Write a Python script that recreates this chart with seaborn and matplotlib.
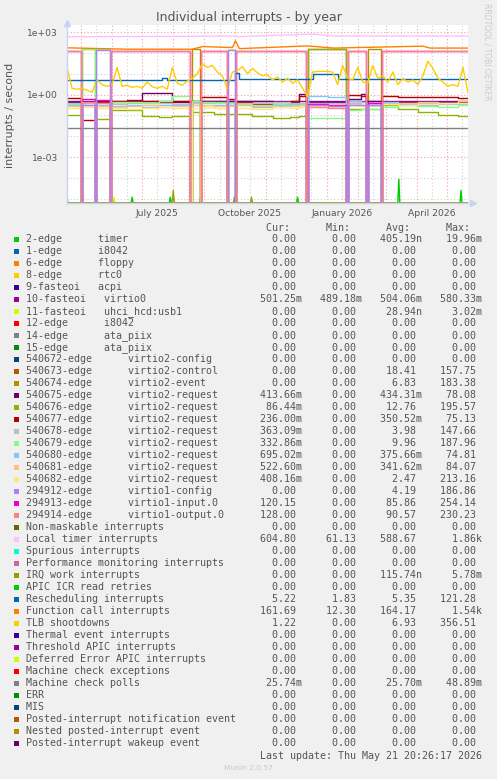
import numpy as np
import pandas as pd
import matplotlib
matplotlib.use("Agg")
import matplotlib.pyplot as plt
import matplotlib.dates as mdates
from matplotlib.patches import Rectangle
from matplotlib.ticker import FixedLocator, NullFormatter, FuncFormatter
import seaborn as sns

W, H = 497, 779
start = pd.Timestamp("2025-04-16 20:26")   # 400 days before last update
ymin, ymax = 10 ** -5.2, 10 ** 3.337

# ---- data (day offsets from start, values in interrupts/s) ----
# shared breakpoints for the virtio queues (reboots shuffle the irq numbers)
epoch_days = [0, 14, 15, 28, 29, 43, 44, 60, 75, 92, 105, 123, 125, 133, 134, 147, 160, 161, 168, 169,
              185, 205, 222, 231, 238, 240, 260, 278, 280, 293, 298, 300, 313, 314, 330, 350, 370, 390, 400]

virtio1_input = [120, 0, 0.6, 0, 0.55, 0, 120, 120, 120, 120, 120, 0, 0, 0, 120, 120, 0, 0, 0, 120,
                 120, 120, 120, 120, 0, 0.35, 0.3, 0, 120, 120, 0, 0.4, 0, 120, 120, 120, 120, 120, 120]
virtio1_output = [128, 0, 0.45, 0, 0.4, 0, 128, 128, 128, 128, 128, 0, 0, 0, 128, 128, 0, 0, 0, 128,
                  128, 128, 128, 128, 0, 0.25, 0.22, 0, 128, 128, 0, 0.3, 0, 128, 128, 128, 128, 128, 128]
virtio1_config = [0, 0, 0.3, 0, 145, 0, 0, 0, 0, 0, 0, 0, 0, 0, 0, 0, 0, 145, 0, 0,
                  0, 0, 0, 0, 0, 0.3, 0.28, 0, 0.3, 0.3, 0, 0.3, 0, 0, 0, 0, 0, 0, 0]
q540679 = [0.35, 0, 150, 0, 150, 0, 0.42, 0.42, 0.4, 0.5, 0.85, 0, 0.5, 0, 0.45, 0.4, 0, 0.4, 0, 0.35,
           0.3, 0.35, 0.3, 0.35, 0, 0.075, 0.075, 0, 0.18, 0.2, 0, 0.2, 0, 0.25, 0.3, 0.28, 0.25, 0.3, 0.33]
q540676 = [0.1, 0, 150, 0, 0.065, 0, 0.18, 0.18, 0.09, 0.08, 0.09, 0, 0.15, 0, 0.15, 0.12, 0, 0.12, 0, 0.12,
           0.09, 0.075, 0.08, 0.09, 0, 150, 150, 0, 0.2, 0.2, 0, 0.2, 0, 0.3, 0.2, 0.15, 0.11, 0.09, 0.086]
q540677 = [0.7, 0, 0.06, 0, 0.5, 0, 0.5, 0.55, 0.5, 0.45, 0.5, 0, 0, 0, 0.75, 0.8, 0, 0.6, 0, 0.45,
           0.35, 0.3, 0.5, 0.9, 0, 0, 0, 0, 1.0, 0.9, 0, 0, 0, 0.85, 0.8, 0.75, 0.8, 0.7, 0.75]
q540675 = [0.45, 0, 0.45, 0, 0.45, 0, 0.45, 0.45, 1.2, 1.2, 0.45, 0, 0.5, 0, 0.5, 0.5, 0, 0.5, 0, 0.5,
           0.5, 0.45, 0.45, 1.1, 0, 0.45, 0.45, 0, 0.6, 1.1, 0, 0.5, 0, 0.45, 0.45, 0.45, 0.45, 0.42, 0.41]
q540680 = [0.3, 0, 0.3, 0, 0.3, 0, 0.28, 0.3, 0.25, 0.3, 0.3, 0, 0.3, 0, 0.25, 0.3, 0, 0.3, 0, 0.3,
           0.25, 0.3, 0.35, 0.3, 0, 0.85, 0.8, 0, 0.5, 0.45, 0, 0.4, 0, 0.45, 0.35, 0.3, 0.4, 0.5, 0.7]
q540678 = [0.4, 0, 0.38, 0, 0.4, 0, 0.35, 0.4, 0.38, 0.4, 0.35, 0, 0.4, 0, 0.38, 0.42, 0, 0.4, 0, 0.38,
           0.4, 0.42, 0.38, 0.4, 0, 0.4, 0.38, 0, 0.4, 0.42, 0, 0.4, 0, 0.38, 0.4, 0.38, 0.36, 0.36, 0.36]
q540681 = [0.28, 0, 0.3, 0, 0.27, 0, 0.25, 0.28, 0.3, 0.26, 0.28, 0, 0.3, 0, 0.3, 0.28, 0, 0.28, 0, 0.3,
           0.27, 0.25, 0.28, 0.3, 0, 0.3, 0.32, 0, 0.35, 0.3, 0, 0.3, 0, 0.35, 0.4, 0.45, 0.4, 0.5, 0.52]
q540682 = [0.22, 0, 0.25, 0, 0.22, 0, 0.22, 0.2, 0.22, 0.25, 0.22, 0, 0.22, 0, 0.25, 0.22, 0, 150, 0, 0.22,
           0.2, 0.25, 0.22, 0.25, 0, 0.28, 0.25, 0, 0.3, 0.28, 0, 0.3, 0, 0.35, 0.32, 0.35, 0.38, 0.4, 0.41]
virtio2_event = [0, 0, 0, 0, 0, 0, 0, 0, 0, 0, 0, 0, 150, 0, 0, 0, 0, 0, 0, 0,
                 0, 0, 0, 0, 0, 0, 0, 0, 0, 0, 0, 150, 0, 0, 0, 0, 0, 0, 0]
virtio2_control = [0, 0, 0, 0, 0, 0, 0, 0, 0, 0, 0, 0, 0, 0, 0, 0, 0, 0, 0, 0,
                   0, 0, 0, 0, 0, 157, 157, 0, 0, 0, 0, 0, 0, 0, 0, 0, 0, 0, 0]

virtio0_days = [0, 400]
virtio0_vals = [0.5, 0.5]

local_timer_days = [0, 168, 171, 245, 266, 400]
local_timer_vals = [590, 640, 600, 800, 640, 640]

funcall_days = [0, 60, 125, 135, 150, 165, 168, 172, 240, 266, 355, 362, 400]
funcall_vals = [175, 150, 150, 200, 190, 180, 380, 160, 215, 170, 210, 170, 170]

resched_days = [0, 90, 95, 100, 165, 168, 172, 240, 245, 266, 270, 400]
resched_vals = [5.2, 5.2, 6.0, 5.2, 5.2, 11, 5.5, 5.5, 10, 10, 5.3, 5.3]

mcpoll_days = [0, 400]
mcpoll_vals = [0.0257, 0.0257]

tlb_days = np.arange(0, 401, 5)
tlb_vals = [20, 2.0, 1.8, 2.0, 1.6, 1.3, 5.0, 3.0, 2.5, 3.0,
            20, 2.5, 2.8, 2.2, 2.5, 2.0, 4.0, 2.4, 2.0, 2.5,
            1.8, 20, 3.5, 2.8, 4.5, 6.0, 10, 30, 20, 25,
            12, 8, 1.8, 12, 14, 22, 10, 18, 11, 8,
            9, 5, 7, 4, 6, 3.5, 5, 2, 0.8, 12,
            13, 13, 13, 12, 3, 25, 6, 5, 20, 4,
            3.5, 25, 6, 8, 4, 12, 3, 6, 4, 5,
            3, 8, 40, 18, 6, 4, 2.5, 3, 2.5, 20,
            1.2]

timer_days = [0, 1, 64, 65, 66, 102, 103, 104, 132, 133, 134, 229, 230, 231, 330, 331, 332, 392, 393, 394, 400]
timer_vals = [1.2e-5, 0, 0, 1.2e-5, 0, 0, 1.2e-5, 0, 0, 1.2e-5, 0, 0, 1.2e-5, 0, 0, 8.7e-5, 0, 0, 2.5e-5, 0, 0]
uhci_days = [0, 46, 47, 48, 400]
uhci_vals = [0, 0, 1.2e-5, 0, 0]
irqwork_days = [0, 105, 106, 107, 166, 167, 168, 183, 184, 185, 400]
irqwork_vals = [0, 0, 2.5e-5, 0, 0, 1.2e-5, 0, 0, 1.2e-5, 0, 0]

# ---- legend table ----
legend_names = [
    "2-edge      timer", "1-edge      i8042", "6-edge      floppy", "8-edge      rtc0",
    "9-fasteoi   acpi", "10-fasteoi   virtio0", "11-fasteoi   uhci_hcd:usb1", "12-edge      i8042",
    "14-edge      ata_piix", "15-edge      ata_piix",
    "540672-edge      virtio2-config", "540673-edge      virtio2-control", "540674-edge      virtio2-event",
    "540675-edge      virtio2-request", "540676-edge      virtio2-request", "540677-edge      virtio2-request",
    "540678-edge      virtio2-request", "540679-edge      virtio2-request", "540680-edge      virtio2-request",
    "540681-edge      virtio2-request", "540682-edge      virtio2-request",
    "294912-edge      virtio1-config", "294913-edge      virtio1-input.0", "294914-edge      virtio1-output.0",
    "Non-maskable interrupts", "Local timer interrupts", "Spurious interrupts",
    "Performance monitoring interrupts", "IRQ work interrupts", "APIC ICR read retries",
    "Rescheduling interrupts", "Function call interrupts", "TLB shootdowns", "Thermal event interrupts",
    "Threshold APIC interrupts", "Deferred Error APIC interrupts", "Machine check exceptions",
    "Machine check polls", "ERR", "MIS", "Posted-interrupt notification event",
    "Nested posted-interrupt event", "Posted-interrupt wakeup event",
]
cur_vals = ["0.00", "0.00", "0.00", "0.00", "0.00", "501.25m", "0.00", "0.00", "0.00", "0.00",
            "0.00", "0.00", "0.00", "413.66m", "86.44m", "236.00m", "363.09m", "332.86m", "695.02m",
            "522.60m", "408.16m", "0.00", "120.15", "128.00", "0.00", "604.80", "0.00", "0.00", "0.00",
            "0.00", "5.22", "161.69", "1.22", "0.00", "0.00", "0.00", "0.00", "25.74m", "0.00", "0.00",
            "0.00", "0.00", "0.00"]
min_vals = ["0.00", "0.00", "0.00", "0.00", "0.00", "489.18m", "0.00", "0.00", "0.00", "0.00",
            "0.00", "0.00", "0.00", "0.00", "0.00", "0.00", "0.00", "0.00", "0.00",
            "0.00", "0.00", "0.00", "0.00", "0.00", "0.00", "61.13", "0.00", "0.00", "0.00",
            "0.00", "1.83", "12.30", "0.00", "0.00", "0.00", "0.00", "0.00", "0.00", "0.00", "0.00",
            "0.00", "0.00", "0.00"]
avg_vals = ["405.19n", "0.00", "0.00", "0.00", "0.00", "504.06m", "28.94n", "0.00", "0.00", "0.00",
            "0.00", "18.41", "6.83", "434.31m", "12.76", "350.52m", "3.98", "9.96", "375.66m",
            "341.62m", "2.47", "4.19", "85.86", "90.57", "0.00", "588.67", "0.00", "0.00", "115.74n",
            "0.00", "5.35", "164.17", "6.93", "0.00", "0.00", "0.00", "0.00", "25.70m", "0.00", "0.00",
            "0.00", "0.00", "0.00"]
max_vals = ["19.96m", "0.00", "0.00", "0.00", "0.00", "580.33m", "3.02m", "0.00", "0.00", "0.00",
            "0.00", "157.75", "183.38", "78.08", "195.57", "75.13", "147.66", "187.96", "74.81",
            "84.07", "213.16", "186.86", "254.14", "230.23", "0.00", "1.86k", "0.00", "0.00", "5.78m",
            "0.00", "121.28", "1.54k", "356.51", "0.00", "0.00", "0.00", "0.00", "48.89m", "0.00", "0.00",
            "0.00", "0.00", "0.00"]

munin_palette = ["#00CC00", "#0066B3", "#FF8000", "#FFCC00", "#330099", "#990099", "#CCFF00", "#FF0000",
                 "#808080", "#008F00", "#00487D", "#B35A00", "#B38F00", "#6B006B", "#8FB300", "#B30000",
                 "#BEBEBE", "#80FF80", "#80C9FF", "#FFC080", "#FFE680", "#AA80FF", "#EE00CC", "#FF8080",
                 "#666600", "#FFBFFF", "#00FFCC", "#CC6699", "#999900"]
colors = [munin_palette[i % len(munin_palette)] for i in range(len(legend_names))]

# ---- drawing ----
sns.set_style("white")
plt.rcParams["font.family"] = ["DejaVu Sans"]
TXT = "#555555"
LW = 1.0

fig = plt.figure(figsize=(W / 100, H / 100), dpi=100, facecolor="#F0F0F0")
ax = fig.add_axes([67 / W, 1 - 203 / H, 401 / W, 178 / H])
ax.set_facecolor("white")


def draw(days, vals, idx, steps=True, z=2):
    d = pd.DataFrame({"t": start + pd.to_timedelta(np.asarray(days, float), unit="D"),
                      "v": np.maximum(np.asarray(vals, float), ymin)})
    sns.lineplot(data=d, x="t", y="v", color=colors[idx], lw=LW, ax=ax, estimator=None, sort=False,
                 drawstyle="steps-post" if steps else "default", zorder=z)


draw(timer_days, timer_vals, 0, steps=False)
draw(virtio0_days, virtio0_vals, 5)
draw(uhci_days, uhci_vals, 6, steps=False)
draw(epoch_days, virtio2_control, 11)
draw(epoch_days, virtio2_event, 12)
draw(epoch_days, q540675, 13)
draw(epoch_days, q540676, 14)
draw(epoch_days, q540677, 15)
draw(epoch_days, q540678, 16)
draw(epoch_days, q540679, 17)
draw(epoch_days, q540680, 18)
draw(epoch_days, q540681, 19)
draw(epoch_days, q540682, 20)
draw(epoch_days, virtio1_config, 21, z=2.5)
draw(epoch_days, virtio1_input, 22)
draw(epoch_days, virtio1_output, 23)
draw(local_timer_days, local_timer_vals, 25, steps=False)
draw(irqwork_days, irqwork_vals, 28, steps=False)
draw(resched_days, resched_vals, 30)
draw(funcall_days, funcall_vals, 31, steps=False)
draw(tlb_days, tlb_vals, 32, steps=False)
draw(mcpoll_days, mcpoll_vals, 37)

ax.set_yscale("log")
ax.set_ylim(ymin, ymax)
ax.set_xlim(start, start + pd.Timedelta(days=400))
ax.set_xlabel("")
ax.set_ylabel("")

ax.yaxis.set_major_locator(FixedLocator([1e-3, 1, 1e3]))
ax.yaxis.set_minor_locator(FixedLocator([1e-5, 1e-4, 1e-2, 1e-1, 1e1, 1e2]))
ax.yaxis.set_major_formatter(FuncFormatter(lambda v, p: f"{v:.0e}"))
ax.yaxis.set_minor_formatter(NullFormatter())

ax.xaxis.set_major_locator(mdates.MonthLocator())
ax.xaxis.set_minor_locator(mdates.MonthLocator(bymonthday=16))
ax.xaxis.set_major_formatter(NullFormatter())
ax.xaxis.set_minor_formatter(FuncFormatter(
    lambda v, p: mdates.num2date(v).strftime("%B %Y") if mdates.num2date(v).month in (1, 4, 7, 10) else ""))

ax.grid(which="major", color="#F2A0A0", ls=(0, (1, 2)), lw=0.8)
ax.grid(which="minor", color="#D0D0D0", ls=(0, (1, 2)), lw=0.8)
ax.set_axisbelow(True)

ax.tick_params(axis="y", which="major", labelsize=6.6, labelcolor=TXT, length=2.5, color="#F2A0A0", pad=4)
ax.tick_params(axis="y", which="minor", length=0)
ax.tick_params(axis="x", which="major", length=2.5, color="#F2A0A0")
ax.tick_params(axis="x", which="minor", labelsize=6.6, labelcolor=TXT, length=2.5, color="#D0D0D0", pad=1.5)

for s in ("top", "right"):
    ax.spines[s].set_visible(False)
for s in ("left", "bottom"):
    ax.spines[s].set_color("#C8D2F5")
    ax.spines[s].set_linewidth(1.0)
ax.plot([1.012], [0], marker=">", ms=4.5, color="#C8D2F5", transform=ax.transAxes, clip_on=False)
ax.plot([0], [1.012], marker="^", ms=4.5, color="#C8D2F5", transform=ax.transAxes, clip_on=False)


def fx(x):
    return x / W


def fy(y):
    return 1 - y / H


fig.text(fx(248.5), fy(18), "Individual interrupts - by year", ha="center", va="center", size=9, color=TXT)
fig.text(fx(10), fy(115), "interrupts / second", rotation=90, ha="center", va="center", size=8, color=TXT)
fig.text(fx(487), fy(52), "RRDTOOL / TOBI OETIKER", rotation=270, ha="center", va="center",
         size=5.5, color="#CCCCCC")

MONO = dict(family="DejaVu Sans Mono", size=7.2, color=TXT, ha="left", va="center")
fig.text(fx(26), fy(227.7), " " * 40 + "Cur:" + " " * 6 + "Min:" + " " * 6 + "Avg:" + " " * 6 + "Max:", **MONO)


def cell(s):
    return (s if s[-1] in "mnk" else s + " ").rjust(10)


for i, name in enumerate(legend_names):
    y = 239.5 + 12.0 * i
    fig.add_artist(Rectangle((fx(14), fy(y + 2.7)), 5.4 / W, 5.4 / H, transform=fig.transFigure,
                             facecolor=colors[i], lw=0))
    line = name.ljust(36) + cell(cur_vals[i]) + cell(min_vals[i]) + cell(avg_vals[i]) + cell(max_vals[i])
    fig.text(fx(26), fy(y), line, **MONO)

fig.text(fx(26), fy(755.7), " " * 39 + "Last update: Thu May 21 20:26:17 2026", **MONO)
fig.text(fx(248.5), fy(768), "Munin 2.0.57", ha="center", va="center", size=5.4, color="#C8C8C8")

fig.savefig("out.png", dpi=100, facecolor=fig.get_facecolor())
